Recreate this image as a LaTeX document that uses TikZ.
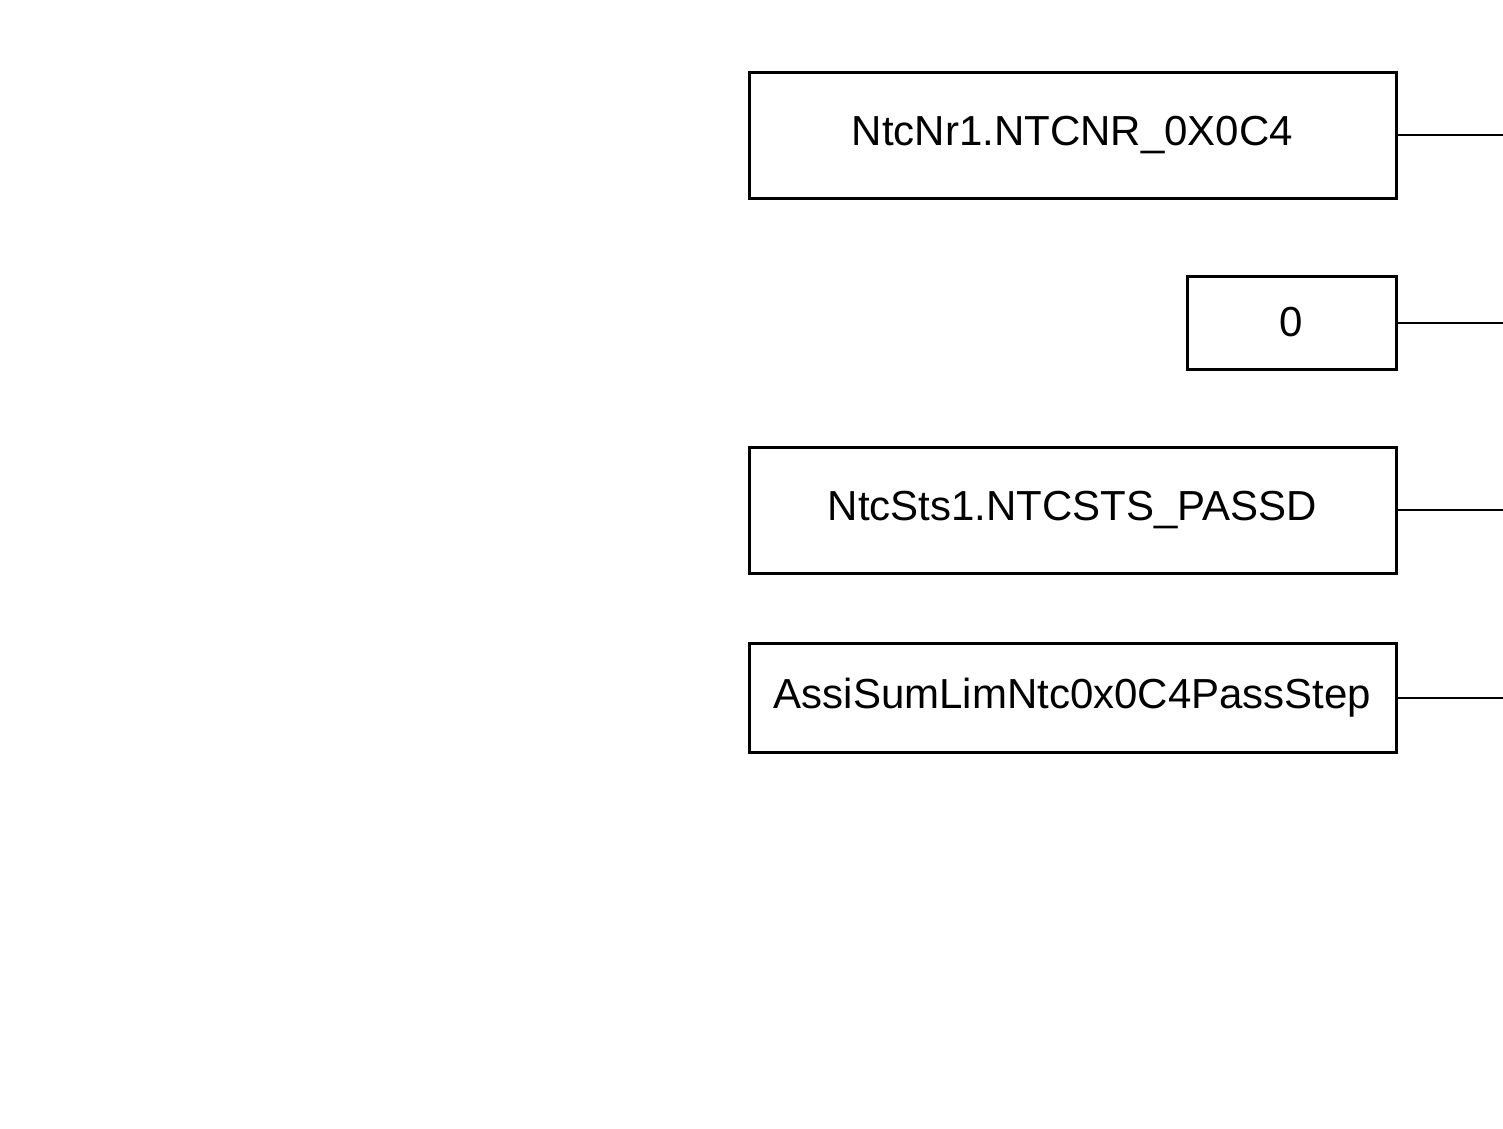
\documentclass[tikz,border=0pt]{standalone}
\usepackage{fontspec}
\setmainfont{Liberation Sans}
\begin{document}
\begin{tikzpicture}[x=1pt,y=-1pt,
  blk/.style={draw,line width=3pt,rectangle,inner sep=0pt,font=\fontsize{42}{50}\selectfont},
  wire/.style={line width=2pt}]
\useasboundingbox (0,0) rectangle (1503,1128);
\node[blk,minimum width=647pt,minimum height=126pt] (a) at (1072.5,135) {NtcNr1.NTCNR\_0X0C4};
\node[blk,minimum width=209pt,minimum height=93pt] (b) at (1291.5,322.5) {0};
\node[blk,minimum width=647pt,minimum height=126pt] (c) at (1072.5,510) {NtcSts1.NTCSTS\_PASSD};
\node[blk,minimum width=647pt,minimum height=109pt] (d) at (1072.5,697.5) {AssiSumLimNtc0x0C4PassStep};
\coordinate (ae) at (1503,135);
\coordinate (be) at (1503,322.5);
\coordinate (ce) at (1503,510);
\coordinate (de) at (1503,697.5);
\draw[wire] (a.east) -- (ae);
\draw[wire] (b.east) -- (be);
\draw[wire] (c.east) -- (ce);
\draw[wire] (d.east) -- (de);
\end{tikzpicture}
\end{document}
